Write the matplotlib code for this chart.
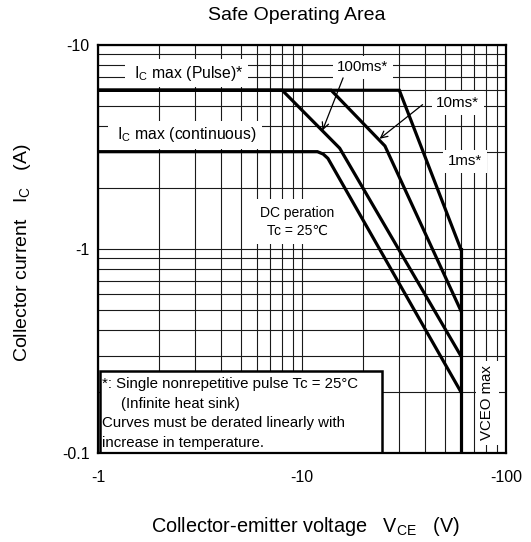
import matplotlib
matplotlib.use("Agg")
import matplotlib.pyplot as plt
from matplotlib.ticker import FixedLocator, FixedFormatter, NullFormatter
from matplotlib.patches import Rectangle

plt.rcParams['font.family'] = ['Liberation Sans', 'DejaVu Sans']
plt.rcParams['mathtext.fontset'] = 'custom'
plt.rcParams['mathtext.rm'] = 'Liberation Sans'

# ---- data (V_CE in volts, I_C in amps; plotted as magnitudes) ----
dc_v = [1, 11.9, 12.7, 13.4, 60]
dc_i = [3.0, 3.0, 2.92, 2.78, 0.2]
ms100_v = [1, 8.0, 15.3, 60]
ms100_i = [6.0, 6.0, 3.12, 0.3]
ms10_v = [1, 13.9, 25.5, 60]
ms10_i = [6.0, 6.0, 3.2, 0.5]
ms1_v = [1, 30, 60]
ms1_i = [6.0, 6.0, 1.0]
vceo_v = [60, 60]
vceo_i = [0.1, 1.0]

x_ticks = [1, 10, 100]
x_tick_labels = ["-1", "-10", "-100"]
y_ticks = [0.1, 1, 10]
y_tick_labels = ["-0.1", "-1", "-10"]

W, H = 531, 542
fig = plt.figure(figsize=(W / 100, H / 100), dpi=100)
ax = fig.add_axes([98 / W, 1 - 453 / H, 408 / W, 408 / H])
ax.set_xscale('log')
ax.set_yscale('log')
ax.set_xlim(1, 100)
ax.set_ylim(0.1, 10)

minor = [m * d for d in (1, 10, 0.1) for m in range(2, 10)]
ax.xaxis.set_major_locator(FixedLocator(x_ticks))
ax.xaxis.set_major_formatter(FixedFormatter(x_tick_labels))
ax.xaxis.set_minor_locator(FixedLocator([m for m in minor if 1 < m < 100]))
ax.xaxis.set_minor_formatter(NullFormatter())
ax.yaxis.set_major_locator(FixedLocator(y_ticks))
ax.yaxis.set_major_formatter(FixedFormatter(y_tick_labels))
ax.yaxis.set_minor_locator(FixedLocator([m for m in minor if 0.1 < m < 10]))
ax.yaxis.set_minor_formatter(NullFormatter())
ax.tick_params(which='both', length=0)
ax.tick_params(axis='x', pad=12, labelsize=11.5)
ax.tick_params(axis='y', pad=6, labelsize=11.5)
ax.grid(True, which='both', color='#1a1a1a', linewidth=0.8, zorder=0.5)
ax.set_axisbelow(True)
for s in ax.spines.values():
    s.set_linewidth(1.6)
    s.set_color('black')
    s.set_zorder(8)

lw = 2.3
for v, i in [(dc_v, dc_i), (ms100_v, ms100_i), (ms10_v, ms10_i), (ms1_v, ms1_i), (vceo_v, vceo_i)]:
    ax.plot(v, i, color='black', linewidth=lw, solid_joinstyle='miter', zorder=4)

box = dict(facecolor='white', edgecolor='none', boxstyle='square,pad=0.3')
ax.text(2.72, 7.29, " I$_\\mathregular{C}$ max (Pulse)* ", ha='center', va='center', fontsize=11.3, bbox=box, zorder=3)
ax.text(2.67, 3.63, " I$_\\mathregular{C}$ max (continuous) ", ha='center', va='center', fontsize=11.3, bbox=box, zorder=3)
ax.text(19.9, 7.8, "100ms*", ha='center', va='center', fontsize=10.8, bbox=box, zorder=3)
ax.text(58, 5.2, "10ms*", ha='center', va='center', fontsize=11, bbox=box, zorder=3)
ax.text(63, 2.7, "1ms*", ha='center', va='center', fontsize=10.8, bbox=box, zorder=3)
ax.text(9.5, 1.36, "DC peration\nTc = 25\u2103", ha='center', va='center', fontsize=10,
        linespacing=1.4, bbox=dict(facecolor='white', edgecolor='none', boxstyle='square,pad=0.45'), zorder=3)
ax.text(80.7, 0.176, "VCEO max", ha='center', va='center', rotation=90, fontsize=10.8,
        bbox=box, zorder=3)

arrow = dict(arrowstyle='->', color='black', lw=0.9, mutation_scale=12, shrinkA=0, shrinkB=0)
ax.annotate("", xy=(12.6, 3.81), xytext=(15.9, 6.9), arrowprops=arrow, zorder=5)
ax.annotate("", xy=(24.0, 3.47), xytext=(39, 5.1), arrowprops=arrow, zorder=5)

# note box
ax.add_patch(Rectangle((0.005, 0.0), 0.691, 0.201, transform=ax.transAxes,
                       facecolor='white', edgecolor='black', linewidth=1.8, zorder=6))
note = [("*: Single nonrepetitive pulse Tc = 25°C", 0.0098, 0.169),
        ("(Infinite heat sink)", 0.056, 0.120),
        ("Curves must be derated linearly with", 0.0098, 0.0735),
        ("increase in temperature.", 0.0098, 0.0245)]
for t, xf, yf in note:
    ax.text(xf, yf, t, transform=ax.transAxes, ha='left', va='center', fontsize=10.8, zorder=7)

fig.text(297 / W, 1 - 15 / H, "Safe Operating Area", ha='center', va='center', fontsize=14)
fig.text(306 / W, 1 - 526 / H, "Collector-emitter voltage   V$_\\mathregular{CE}$   (V)",
         ha='center', va='center', fontsize=14.3)
fig.text(23 / W, 1 - 253 / H, "Collector current   I$_\\mathregular{C}$   (A)",
         ha='center', va='center', rotation=90, fontsize=14)

fig.savefig("out.png", dpi=100, facecolor='white')
